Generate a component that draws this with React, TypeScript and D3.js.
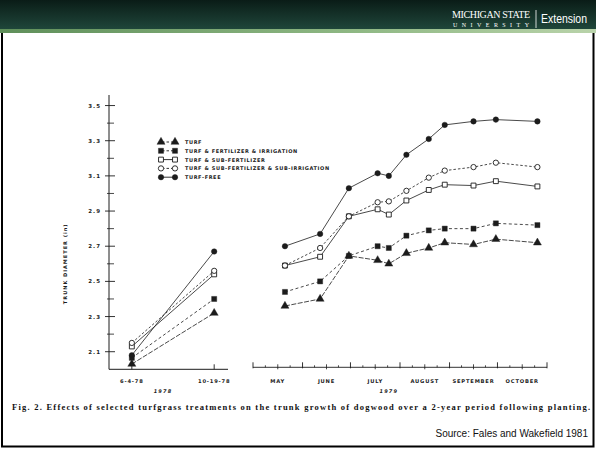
import React, { useEffect, useRef } from 'react';
import * as d3 from 'd3';

// series (legend order)
const seriesNames = [
  'TURF',
  'TURF & FERTILIZER & IRRIGATION',
  'TURF & SUB-FERTILIZER',
  'TURF & SUB-FERTILIZER & SUB-IRRIGATION',
  'TURF-FREE',
];
const markerTypes = ['triangle', 'square', 'squareOpen', 'circleOpen', 'circle'];
const dashPatterns = ['5,1.5', '3,2.5', '', '2.5,2', ''];

// 1978 planting year
const dates1978 = ['1978-06-04', '1978-10-19'];
const dateLabels1978 = ['6-4-78', '10-19-78'];
const turf1978 = [2.03, 2.32];
const fert1978 = [2.065, 2.4];
const subFert1978 = [2.13, 2.54];
const subFertIrr1978 = [2.15, 2.56];
const free1978 = [2.08, 2.67];

// 1979 season
const dates1979 = [
  '1979-05-21', '1979-06-12', '1979-06-30', '1979-07-18', '1979-07-25', '1979-08-05',
  '1979-08-19', '1979-08-29', '1979-09-16', '1979-09-30', '1979-10-26',
];
const turf1979 = [2.36, 2.4, 2.645, 2.62, 2.6, 2.66, 2.69, 2.72, 2.71, 2.74, 2.72];
const fert1979 = [2.44, 2.5, 2.645, 2.7, 2.69, 2.76, 2.79, 2.8, 2.8, 2.83, 2.82];
const subFert1979 = [2.59, 2.64, 2.87, 2.91, 2.88, 2.96, 3.02, 3.05, 3.045, 3.07, 3.04];
const subFertIrr1979 = [2.59, 2.69, 2.87, 2.95, 2.955, 3.015, 3.09, 3.13, 3.15, 3.175, 3.15];
const free1979 = [2.7, 2.77, 3.03, 3.115, 3.1, 3.22, 3.31, 3.39, 3.41, 3.42, 3.41];

const yTicks = [2.1, 2.3, 2.5, 2.7, 2.9, 3.1, 3.3, 3.5];
const yMinorTicks = [2.2, 2.4, 2.6, 2.8, 3.0, 3.2, 3.4];
const monthLabels = ['MAY', 'JUNE', 'JULY', 'AUGUST', 'SEPTEMBER', 'OCTOBER'];

const caption =
  'Fig. 2. Effects of selected turfgrass treatments on the trunk growth of dogwood over a 2-year period following planting.';
const source = 'Source: Fales and Wakefield 1981';

const W = 596;
const H = 449;
const INK = '#1c1c1c';
const chartFont = '"DejaVu Sans", sans-serif';

const App = () => {
  const svgRef = useRef<SVGSVGElement | null>(null);

  useEffect(() => {
    const svg = d3.select(svgRef.current);
    svg.selectAll('*').remove();
    const parse = d3.timeParse('%Y-%m-%d');

    // ---- header bar
    const defs = svg.append('defs');
    const hg = defs.append('linearGradient').attr('id', 'hdr').attr('x1', 0).attr('y1', 0).attr('x2', 0).attr('y2', 1);
    hg.append('stop').attr('offset', '0%').attr('stop-color', '#0a1c17');
    hg.append('stop').attr('offset', '100%').attr('stop-color', '#1f463a');
    const bg = defs.append('linearGradient').attr('id', 'band').attr('x1', 0).attr('y1', 0).attr('x2', 1).attr('y2', 0);
    bg.append('stop').attr('offset', '0%').attr('stop-color', '#5f8f5a');
    bg.append('stop').attr('offset', '60%').attr('stop-color', '#8fb884');
    bg.append('stop').attr('offset', '100%').attr('stop-color', '#b9d3aa');

    svg.append('rect').attr('width', W).attr('height', H).attr('fill', '#fff');
    svg.append('rect').attr('x', 0).attr('y', 0).attr('width', W).attr('height', 29).attr('fill', 'url(#hdr)');
    svg.append('rect').attr('x', 0).attr('y', 29).attr('width', W).attr('height', 4).attr('fill', 'url(#band)');

    svg.append('text').attr('x', 452).attr('y', 18).attr('font-family', '"Liberation Serif", serif')
      .attr('font-size', 10).attr('fill', '#fff').attr('textLength', 78).text('MICHIGAN STATE');
    svg.append('text').attr('x', 453).attr('y', 26.5).attr('font-family', '"Liberation Serif", serif')
      .attr('font-size', 6).attr('fill', '#fff').attr('textLength', 76).text('UNIVERSITY');
    svg.append('line').attr('x1', 536).attr('x2', 536).attr('y1', 10).attr('y2', 28)
      .attr('stroke', '#fff').attr('stroke-width', 0.8);
    svg.append('text').attr('x', 541).attr('y', 23).attr('font-family', '"Liberation Sans", Arial, sans-serif')
      .attr('font-size', 12.5).attr('fill', '#fff').attr('textLength', 46).attr('lengthAdjust', 'spacingAndGlyphs')
      .text('Extension');

    // frame
    svg.append('path').attr('d', `M2,33 V446.5 H593.5 V33`).attr('fill', 'none').attr('stroke', '#000').attr('stroke-width', 2);

    // ---- scales
    const y = d3.scaleLinear().domain([2.0, 3.56]).range([369.3, 95]);
    const xL = d3.scaleTime().domain([new Date(1978, 3, 27), new Date(1978, 10, 11)]).range([109, 228]);
    const xR = d3.scaleTime().domain([new Date(1979, 4, 1), new Date(1979, 10, 1)]).range([253, 547]);

    const g = svg.append('g').attr('fill', INK).attr('font-family', chartFont);

    // y axis
    g.append('line').attr('x1', 109).attr('x2', 109).attr('y1', y(3.56)).attr('y2', y(2.0))
      .attr('stroke', INK).attr('stroke-width', 1);
    yTicks.forEach((t) => {
      g.append('line').attr('x1', 105).attr('x2', 115).attr('y1', y(t)).attr('y2', y(t)).attr('stroke', INK).attr('stroke-width', 0.9);
      g.append('text').attr('x', 101).attr('y', y(t) + 2).attr('text-anchor', 'end').attr('font-size', 5.5)
        .attr('font-weight', 'bold').attr('letter-spacing', 1).text(t.toFixed(1));
    });
    yMinorTicks.forEach((t) => {
      g.append('line').attr('x1', 107).attr('x2', 114).attr('y1', y(t)).attr('y2', y(t)).attr('stroke', INK).attr('stroke-width', 0.8);
    });
    g.append('text').attr('transform', `translate(67,${y(2.6)}) rotate(-90)`).attr('text-anchor', 'middle')
      .attr('font-size', 5).attr('font-weight', 'bold').attr('letter-spacing', 1).text('TRUNK DIAMETER (in)');

    // left x axis
    g.append('line').attr('x1', 109).attr('x2', xL(new Date(1978, 10, 11))).attr('y1', y(2.0)).attr('y2', y(2.0))
      .attr('stroke', INK).attr('stroke-width', 1);
    dates1978.forEach((d, i) => {
      const xx = xL(parse(d)!);
      g.append('line').attr('x1', xx).attr('x2', xx).attr('y1', y(2.0) - 5).attr('y2', y(2.0)).attr('stroke', INK).attr('stroke-width', 0.9);
      g.append('text').attr('x', xx).attr('y', 383).attr('text-anchor', 'middle').attr('font-size', 5.2)
        .attr('font-weight', 'bold').attr('letter-spacing', 0.8).text(dateLabels1978[i]);
    });
    g.append('text').attr('x', 163).attr('y', 393).attr('text-anchor', 'middle').attr('font-size', 5)
      .attr('font-style', 'italic').attr('font-weight', 'bold').attr('letter-spacing', 1.2).text('1978');

    // right x axis
    const axY = y(2.0) - 2;
    g.append('line').attr('x1', xR.range()[0]).attr('x2', xR.range()[1]).attr('y1', axY).attr('y2', axY)
      .attr('stroke', INK).attr('stroke-width', 0.9);
    const monthStarts = d3.timeMonth.range(new Date(1979, 4, 1), new Date(1979, 10, 2));
    monthStarts.forEach((m, i) => {
      const xx = xR(m);
      g.append('line').attr('x1', xx).attr('x2', xx).attr('y1', axY - 5).attr('y2', axY + 1).attr('stroke', INK).attr('stroke-width', 0.9);
      if (i < monthStarts.length - 1) {
        const xn = xR(monthStarts[i + 1]);
        [1, 2, 3].forEach((k) => {
          const xm = xx + ((xn - xx) * k) / 4;
          g.append('line').attr('x1', xm).attr('x2', xm).attr('y1', axY - (k === 2 ? 3 : 2)).attr('y2', axY + (k === 2 ? 2 : 0))
            .attr('stroke', INK).attr('stroke-width', 0.8);
        });
        g.append('text').attr('x', (xx + xn) / 2).attr('y', 383).attr('text-anchor', 'middle').attr('font-size', 5.2)
          .attr('font-weight', 'bold').attr('letter-spacing', 0.8).text(monthLabels[i]);
      }
    });
    g.append('text').attr('x', xR(new Date(1979, 6, 25))).attr('y', 393).attr('text-anchor', 'middle').attr('font-size', 5)
      .attr('font-style', 'italic').attr('font-weight', 'bold').attr('letter-spacing', 1.2).text('1979');

    // ---- series
    const left = [turf1978, fert1978, subFert1978, subFertIrr1978, free1978];
    const right = [turf1979, fert1979, subFert1979, subFertIrr1979, free1979];
    const d78 = dates1978.map((d) => parse(d)!);
    const d79 = dates1979.map((d) => parse(d)!);

    const symbolOf = (t: string) =>
      t === 'triangle' ? d3.symbolTriangle : t.startsWith('square') ? d3.symbolSquare : d3.symbolCircle;
    const sizeOf = (t: string) => (t === 'triangle' ? 28 : t.startsWith('square') ? 26 : 24);

    const drawMarkers = (pts: [number, number][], t: string) => {
      const open = t.endsWith('Open');
      const sym = d3.symbol().type(symbolOf(t)).size(open ? sizeOf(t) - 2 : sizeOf(t));
      g.append('g').selectAll('path').data(pts).join('path')
        .attr('transform', (p) => `translate(${p[0]},${p[1]})`)
        .attr('d', sym() as string)
        .attr('fill', open ? '#fff' : INK)
        .attr('stroke', INK)
        .attr('stroke-width', open ? 0.9 : 0.4);
    };

    const line = d3.line<[number, number]>().x((p) => p[0]).y((p) => p[1]);

    seriesNames.forEach((_, s) => {
      const lp = d78.map((d, i) => [xL(d), y(left[s][i])] as [number, number]);
      const rp = d79.map((d, i) => [xR(d), y(right[s][i])] as [number, number]);
      [lp, rp].forEach((pts) => {
        g.append('path').attr('d', line(pts)).attr('fill', 'none').attr('stroke', INK).attr('stroke-width', 0.8)
          .attr('stroke-dasharray', dashPatterns[s] || null);
      });
    });
    seriesNames.forEach((_, s) => {
      drawMarkers(d78.map((d, i) => [xL(d), y(left[s][i])] as [number, number]), markerTypes[s]);
      drawMarkers(d79.map((d, i) => [xR(d), y(right[s][i])] as [number, number]), markerTypes[s]);
    });

    // ---- legend
    seriesNames.forEach((name, s) => {
      const ly = 142 + s * 8.8;
      g.append('line').attr('x1', 162).attr('x2', 174).attr('y1', ly).attr('y2', ly).attr('stroke', INK)
        .attr('stroke-width', 0.9).attr('stroke-dasharray', dashPatterns[s] ? '2.5,2' : null);
      drawMarkers([[161, ly], [175, ly]], markerTypes[s]);
      g.append('text').attr('x', 185).attr('y', ly + 2).attr('font-size', 5).attr('font-weight', 'bold')
        .attr('letter-spacing', 0.6).text(name);
    });

    // ---- caption and source
    svg.append('text').attr('x', 12).attr('y', 410).attr('font-family', '"Liberation Serif", serif')
      .attr('font-size', 8.5).attr('font-weight', 'bold').attr('fill', '#111').attr('textLength', 578).text(caption);
    svg.append('text').attr('x', 588).attr('y', 437).attr('text-anchor', 'end').attr('font-family', '"Liberation Sans", Arial, sans-serif')
      .attr('font-size', 10).attr('fill', '#111').text(source);
  }, []);

  return (
    <svg ref={svgRef} width={W} height={H} style={{ position: 'absolute', left: 0, top: 0, display: 'block' }} />
  );
};

export default App;
